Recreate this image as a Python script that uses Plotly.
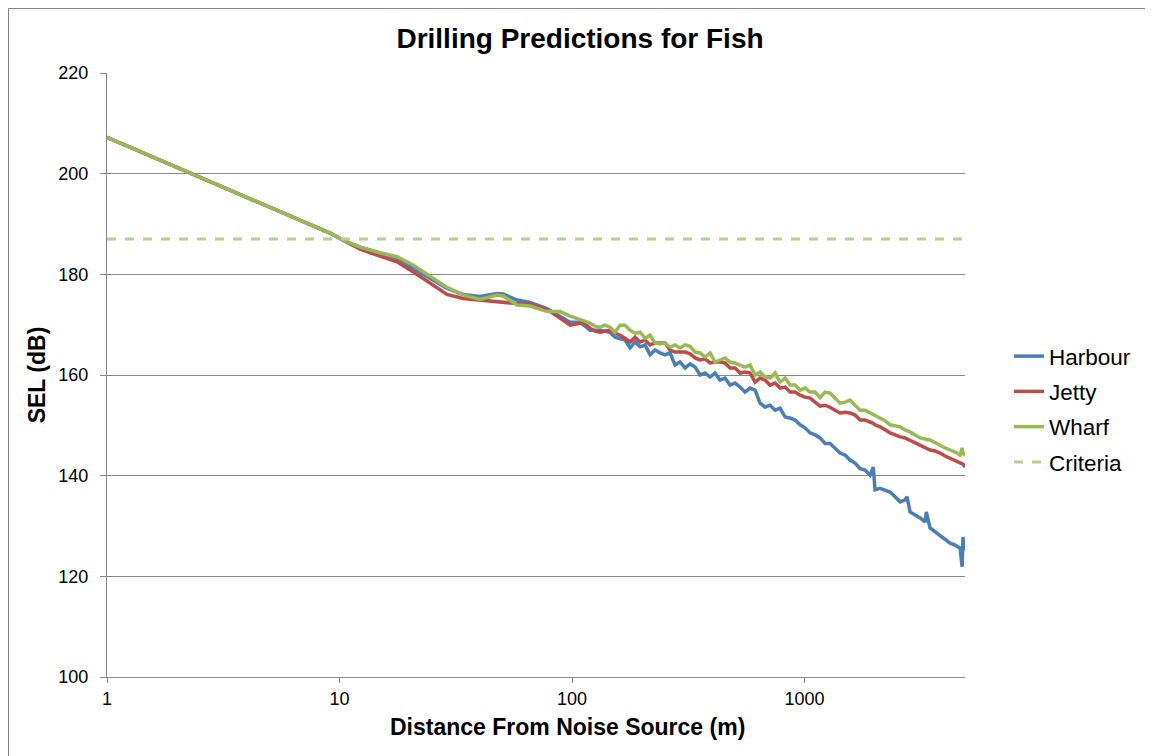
import plotly.graph_objects as go

# Distance (m) – shared by all series
distance = [1, 3.17, 9.10, 10.35, 12.25, 14.94, 17.67, 20.71, 24.5, 29.0, 33.98, 40.2, 47.6, 50.5,
            58.0, 66.0, 78.1, 88.8, 98.0, 108.2, 113.4, 119.5, 125.7, 131.9, 138.4, 145.7, 153.0,
            160.9, 169.0, 177.6, 186.6, 196.1, 206.1, 216.5, 227.5, 239.0, 251.2, 263.9, 277.3,
            291.4, 306.2, 321.7, 338.1, 355.2, 373.3, 392.2, 412.2, 433.1, 455.1, 478.2, 502.5,
            528.0, 554.8, 583.0, 612.6, 643.7, 676.4, 710.8, 746.9, 784.8, 824.7, 866.6, 910.6,
            956.9, 1005, 1056, 1110, 1166, 1225, 1287, 1353, 1421, 1494, 1569, 1649, 1733, 1821,
            1913, 1975, 2010, 2112, 2220, 2332, 2451, 2575, 2706, 2760, 2843, 2988, 3139, 3299,
            3340, 3466, 3642, 3827, 4021, 4225, 4440, 4665, 4760, 4800, 4902]

harbour = [207.2, 197.2, 188.2, 186.8, 185.4, 184.2, 183.2, 181.2, 179.2, 177.2, 176.0, 175.6, 176.2, 176.1,
           174.9, 174.4, 173.2, 171.7, 170.5, 170.5, 169.7, 168.9, 168.9, 168.9, 168.7, 168.5, 167.5,
           167.3, 166.95, 165.4, 166.55, 165.6, 165.96, 164.0, 164.96, 164.4, 164.0, 164.4, 162.0,
           162.6, 161.4, 162.2, 161.6, 160.0, 160.4, 159.6, 160.4, 159.0, 159.4, 158.0, 158.4,
           157.6, 156.6, 157.4, 157.0, 154.4, 153.6, 154.0, 153.0, 153.4, 151.65, 151.45, 151.05,
           150.1, 149.5, 148.5, 148.1, 147.5, 146.4, 146.4, 145.5, 144.5, 144.1, 143.1, 142.5, 141.4, 141.1,
           140.1, 141.7, 137.2, 137.5, 137.2, 136.75, 135.8, 134.8, 135.2, 135.8, 132.8, 132.2, 131.6, 130.8,
           132.8, 129.6, 128.8, 128.2, 127.2, 126.6, 126.2, 125.6, 121.9, 127.8, 125.2]

jetty = [207.2, 197.2, 188.2, 186.8, 185.0, 183.6, 182.5, 180.5, 178.2, 176.0, 175.2, 174.9, 174.6, 174.4,
         174.2, 174.1, 173.0, 171.3, 169.9, 170.3, 170.3, 169.3, 168.7, 168.5, 168.7, 168.9, 168.3,
         167.9, 167.3, 166.55, 167.5, 166.55, 166.95, 165.96, 166.35, 166.35, 166.35, 164.96, 164.56,
         164.56, 164.56, 164.2, 163.4, 163.0, 163.2, 162.4, 162.6, 162.6, 162.4, 161.4, 161.4,
         160.4, 160.6, 160.4, 158.6, 159.4, 159.0, 158.0, 158.4, 157.4, 157.6, 156.6, 156.6,
         156.0, 155.6, 155.4, 154.6, 153.8, 154.0, 153.6, 153.0, 152.45, 152.6, 152.45, 152.05, 151.05, 151.05,
         150.7, 150.4, 150.1, 149.7, 149.1, 148.5, 148.1, 147.7, 147.5, 147.3, 147.1, 146.5, 146.1, 145.5,
         145.4, 145.1, 144.9, 144.5, 143.9, 143.5, 143.1, 142.7, 142.5, 142.3, 141.7]

wharf = [207.2, 197.2, 188.2, 186.8, 185.4, 184.3, 183.5, 181.85, 179.7, 177.4, 175.9, 175.0, 175.9, 175.7,
         173.9, 173.7, 172.6, 172.6, 171.7, 170.9, 170.7, 170.3, 169.7, 169.5, 169.9, 169.5, 168.5,
         169.9, 169.9, 168.9, 168.3, 168.5, 167.3, 167.9, 166.35, 166.15, 166.35, 165.56, 165.96,
         165.36, 165.96, 165.7, 164.56, 164.37, 163.57, 164.37, 162.58, 162.98, 163.37, 162.58, 162.38,
         161.98, 161.58, 161.98, 160.0, 160.6, 159.6, 159.4, 160.4, 158.6, 159.4, 158.0, 158.0,
         157.0, 157.4, 156.6, 156.6, 155.5, 156.6, 156.4, 155.4, 154.4, 154.6, 155.0, 154.0, 153.0, 153.0,
         152.45, 152.2, 152.0, 151.45, 150.9, 150.1, 149.9, 149.7, 149.1, 149.0, 148.7, 148.1, 147.5, 147.3,
         147.2, 147.1, 146.5, 146.1, 145.5, 145.1, 144.7, 144.1, 145.5, 144.4, 144.1]

criteria_db = 187
criteria_x = [distance[0], distance[-1]]

series_names = ["Harbour", "Jetty", "Wharf", "Criteria"]
colors = ["#4A7EBB", "#BE4B48", "#98B954", "#B6CF8E"]

fig = go.Figure()
for name, vals, col in zip(series_names[:3], [harbour, jetty, wharf], colors[:3]):
    fig.add_trace(go.Scatter(x=distance, y=vals, mode="lines", name=name, legendgroup=name,
                             line=dict(color=col, width=3.5)))
fig.add_trace(go.Scatter(x=criteria_x, y=[criteria_db, criteria_db], mode="lines", name="Criteria",
                         legendgroup="Criteria", line=dict(color=colors[3], width=3, dash="dash")))

FONT = "Liberation Sans, Arial, sans-serif"
W, H = 1145, 748
L, T = 99, 65
PW, PH = 858, 604
fig.update_layout(
    width=W, height=H,
    margin=dict(l=L, r=W - L - PW, t=T, b=H - T - PH),
    paper_bgcolor="white", plot_bgcolor="white",
    font=dict(family=FONT, color="black", size=18),
    title=dict(text="<b>Drilling Predictions for Fish</b>", x=(580 - 8) / W, xref="container", xanchor="center",
               y=1 - 30 / H, yref="container", yanchor="middle", font=dict(size=28, family=FONT)),
    showlegend=True,
    legend=dict(x=(1009 - 8 - L) / PW, y=(677 - 409) / PH, xanchor="left", yanchor="middle",
                font=dict(size=22.5, family=FONT), tracegroupgap=3, borderwidth=0,
                bgcolor="rgba(0,0,0,0)"),
    xaxis=dict(type="log", range=[0, 3.69], tickvals=[1, 10, 100, 1000], ticktext=["1", "10", "100", "1000"],
               showgrid=False, showline=True, linecolor="#868686", linewidth=1, ticks="outside",
               tickcolor="#868686", ticklen=5, tickfont=dict(size=18), zeroline=False, automargin=False),
    yaxis=dict(range=[100, 220], dtick=20, tick0=100, showgrid=True, gridcolor="#868686", gridwidth=1,
               showline=True, linecolor="#868686", linewidth=1, ticks="outside", tickcolor="#868686",
               ticklen=6, ticklabelstandoff=8, tickfont=dict(size=18), zeroline=False,
               title=dict(text="<b>SEL (dB)</b>", font=dict(size=23), standoff=6), automargin=False),
)
# x-axis title (offset to the right like the original)
fig.add_annotation(text="<b>Distance From Noise Source (m)</b>", xref="paper", yref="paper",
                   x=(567 - 8 - L) / PW, y=-(727 - 8 - T - PH) / PH, xanchor="center", yanchor="middle",
                   showarrow=False, font=dict(size=23, family=FONT, color="black"))
# outer chart border
fig.add_shape(type="rect", xref="paper", yref="paper",
              x0=-L / PW + 0.0006, x1=(W - L + 20) / PW, y0=-(H - T - PH + 20) / PH, y1=1 + T / PH - 0.0008,
              line=dict(color="#868686", width=1), fillcolor="rgba(0,0,0,0)", layer="below")

fig.write_html("out.html")
